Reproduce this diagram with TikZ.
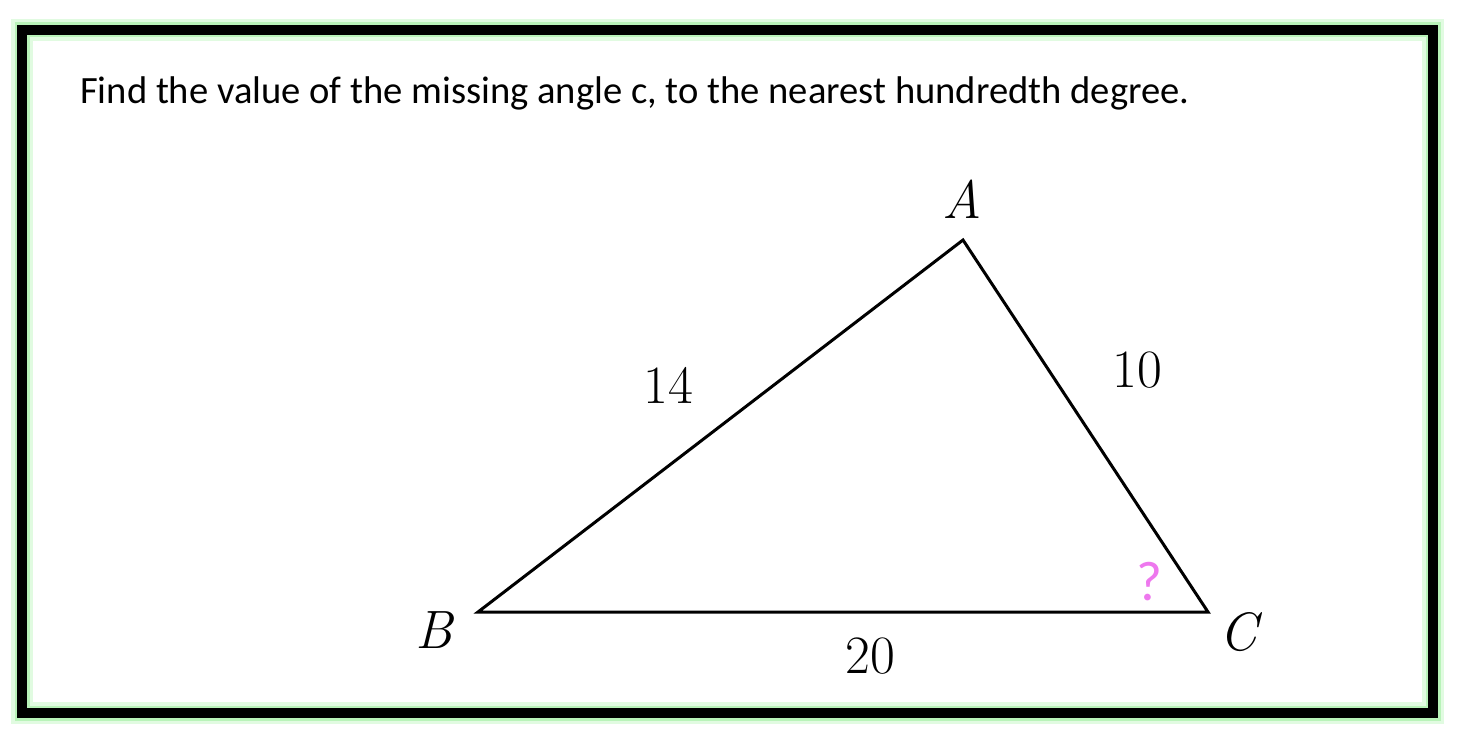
\documentclass[tikz,border=0pt]{standalone}
\usepackage{fontspec}
\setmainfont{Carlito}
\newfontfamily\lblfont{Latin Modern Roman}
\definecolor{glowA}{RGB}{225,251,225}
\definecolor{glowB}{RGB}{185,243,185}
\definecolor{qmark}{RGB}{238,120,238}
\tikzset{
  vlabel/.style={inner sep=0pt, font=\lblfont\itshape\fontsize{54}{60}\selectfont},
  side/.style={inner sep=0pt, font=\lblfont\fontsize{54}{60}\selectfont},
  edge/.style={draw=black, line width=3pt, line join=miter},
}
\begin{document}
\begin{tikzpicture}[x=1pt,y=-1pt]
\useasboundingbox (0,0) rectangle (1464,746);
\fill[white] (0,0) rectangle (1464,746);
% frame with glow
\draw[glowA, line width=22pt] (22,30) rectangle (1433,713);
\draw[glowB, line width=15pt] (22,30) rectangle (1433,713);
\draw[black, line width=10pt] (22,30) rectangle (1433,713);
% question
\node[anchor=base west, inner sep=0pt, font=\fontsize{38.6}{46}\selectfont] (q) at (80,104)
  {Find the value of the missing angle c, to the nearest hundredth degree.};
% triangle
\coordinate (A) at (963,240);
\coordinate (B) at (478,612);
\coordinate (C) at (1208,612);
\draw[edge] (A) -- (B) -- (C) -- cycle;
\node[vlabel] (la) at (962,199) {A};
\node[vlabel] (lb) at (434,630) {B};
\node[vlabel] (lc) at (1238,632) {C};
\node[side] (s14) at (668,385) {14};
\node[side] (s10) at (1137,370) {10};
\node[side] (s20) at (870,656) {20};
\node[inner sep=0pt, anchor=base, text=qmark, font=\rmfamily\fontsize{56}{60}\selectfont] (qm) at (1149,600) {?};
\end{tikzpicture}
\end{document}
